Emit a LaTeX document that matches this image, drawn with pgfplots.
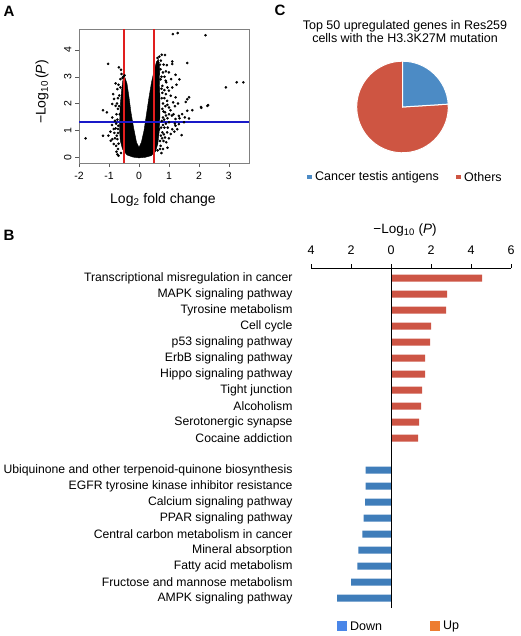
\documentclass[border=0pt]{standalone}
\usepackage{pgfplots}
\pgfplotsset{compat=1.18}
\usepackage{fontspec}
\setmainfont{Liberation Sans}

\definecolor{barred}{RGB}{205,85,69}
\definecolor{barblue}{RGB}{63,125,186}
\definecolor{pieblue}{RGB}{76,139,197}
\definecolor{piered}{RGB}{206,85,66}
\definecolor{downblue}{RGB}{74,134,232}
\definecolor{uporange}{RGB}{237,125,49}
\definecolor{vred}{RGB}{225,30,30}
\definecolor{vblue}{RGB}{25,25,200}

% pie values (top 50 genes)
\def\ctaval{12}
\def\otherval{38}

\begin{document}
\begin{tikzpicture}
\useasboundingbox (0,0) rectangle (520pt,-636pt);

% ---------------- panel letters
\node[font=\fontsize{15}{15}\selectfont\bfseries] at (9pt,-11pt) {A};
\node[font=\fontsize{15}{15}\selectfont\bfseries] at (9pt,-235pt) {B};
\node[font=\fontsize{15}{15}\selectfont\bfseries] at (280pt,-10pt) {C};

% ---------------- A: volcano plot
\begin{axis}[
    at={(79pt,-163pt)}, anchor=south west,
    scale only axis, width=170pt, height=134pt,
    xmin=-2, xmax=3.67, ymin=-0.22, ymax=4.78,
    axis line style={gray},
    xtick={-2,-1,0,1,2,3}, ytick={0,1,2,3,4},
    xtick pos=lower, ytick pos=left,
    tick align=outside, major tick length=4pt,
    tick style={gray!70!black},
    tick label style={font=\fontsize{10.5}{10.5}\selectfont},
    xticklabel style={yshift=-2pt},
    yticklabel style={rotate=90, anchor=south},
    /pgf/number format/assume math mode=true,
]
    % dense core of the V
    \addplot[fill=black, draw=black] coordinates {
        (0,-0.03) (-0.2,0.0) (-0.4,0.08) (-0.55,0.3) (-0.62,0.6) (-0.65,1.0)
        (-0.64,1.5) (-0.62,2.0) (-0.58,2.5) (-0.54,2.85) (-0.48,3.0) (-0.4,2.75)
        (-0.34,2.3) (-0.27,1.7) (-0.18,1.1) (-0.08,0.55) (0,0.36) (0.08,0.55)
        (0.17,1.0) (0.25,1.6) (0.33,2.2) (0.42,2.8) (0.5,3.2) (0.58,3.55)
        (0.65,3.65) (0.69,3.3) (0.68,2.8) (0.7,2.2) (0.7,1.6) (0.68,1.0)
        (0.63,0.5) (0.55,0.2) (0.4,0.05) (0.2,-0.01)
    } -- cycle;
    \addplot[only marks, mark=*, mark size=1.1pt, black] coordinates {
        (1.13,4.59) (1.29,4.63) (2.22,4.55) (-1.03,3.48) (-0.67,3.35) (-0.6,3.26)
        (0.76,3.82) (0.87,3.81) (1.11,3.57) (1.11,3.47) (1.61,3.51) (0.93,3.43)
        (0.8,3.16) (1.0,3.16) (1.22,3.07) (1.07,2.91) (0.89,2.85) (3.26,2.79)
        (3.48,2.79) (2.9,2.6) (1.0,2.48) (1.22,2.23) (1.61,2.16) (1.67,2.23)
        (1.56,2.06) (1.14,2.04) (1.0,1.85) (2.28,1.91) (2.31,1.94) (2.08,1.84)
        (1.78,1.75) (1.61,1.73) (1.44,1.6) (1.33,1.54) (1.53,1.48) (1.67,1.44)
        (1.22,1.42) (-1.2,1.75) (-1.07,1.67) (-0.89,1.48) (-0.8,1.36) (-0.78,1.07)
        (-0.84,1.05) (-1.2,0.8) (-1.02,0.8) (-1.78,0.7) (-0.94,0.61) (-0.84,0.49)
        (-0.72,0.67) (1.33,1.23) (1.22,1.17) (1.11,1.04) (0.94,0.92) (0.87,0.73)
        (0.91,0.55) (0.72,0.42) (1.06,0.86) (1.28,1.04) (-0.83,2.17) (-0.86,2.35)
        (-0.78,1.91) (-0.72,2.54) (-0.62,2.91) (0.64,3.53) (0.72,3.28) (0.91,2.79)
        (0.78,2.66) (1.11,2.6) (1.06,2.29) (0.94,2.1) (0.87,1.67) (0.8,1.48)
        (1.0,1.6) (0.67,1.04) (0.78,0.92) (-0.69,1.17) (-0.64,1.6) (-0.89,0.67)
        (-0.76,0.42) (-0.89,1.98) (1.42,0.82) (2.07,1.87) (1.2,1.25) (-0.7,0.3)
        (-0.75,0.2) (0.8,0.3) (0.75,0.15) (1.0,1.3) (0.95,1.45) (1.5,1.3)
        (1.35,1.45) (-0.68,2.7) (-0.66,2.3) (-0.7,1.8) (-0.72,1.4) (-0.7,0.9)
        (-0.68,0.5) (-0.6,0.15) (0.75,3.0) (0.78,2.4) (0.8,2.0) (0.82,1.7)
        (0.8,1.2) (0.77,0.7) (0.7,0.3) (-0.52,3.0) (-0.48,3.05) (0.62,3.7)
        (0.68,3.75) (0.73,3.6)
        (0.6,3.3) (0.65,3.1) (0.72,2.9) (0.85,3.0) (0.9,3.2) (0.82,3.45)
        (0.7,3.45) (0.95,2.6) (0.85,2.5) (0.75,2.55) (0.9,2.35) (0.85,2.2)
        (0.76,2.2) (0.95,1.95) (0.88,1.9) (0.78,1.8) (1.05,1.75) (0.9,1.55)
        (0.84,1.4) (0.76,1.35) (1.1,1.55) (0.9,1.25) (0.85,1.1) (0.74,1.1)
        (0.96,1.1) (1.18,0.95) (0.83,0.85) (0.73,0.8) (1.0,0.7) (0.82,0.6)
        (0.7,0.6) (0.95,0.35) (0.62,0.25) (1.15,1.6) (1.2,1.9) (1.3,2.0)
        (1.25,2.7) (1.35,2.9)
        (-0.7,2.2) (-0.73,2.0) (-0.75,1.6) (-0.76,1.25) (-0.74,0.8) (-0.66,1.9)
        (-0.62,2.6) (-0.58,3.1) (-0.55,2.95) (-0.8,0.7) (-0.72,0.1) (-0.68,0.05)
        (-0.82,0.9) (-0.9,1.2) (-0.95,0.95) (-0.7,1.05) (-0.78,2.75)
    };
    % thresholds
    \addplot[vred, line width=1.5pt] coordinates {(-0.5,-0.22) (-0.5,4.78)};
    \addplot[vred, line width=1.5pt] coordinates {(0.5,-0.22) (0.5,4.78)};
    \addplot[vblue, line width=1.8pt] coordinates {(-2,1.3) (3.67,1.3)};
\end{axis}
\node[font=\fontsize{14}{14}\selectfont, rotate=90] at (42pt,-92pt) {−Log\textsubscript{10}\,(\textit{P})};
\node[font=\fontsize{14}{14}\selectfont] at (163pt,-200pt) {Log\textsubscript{2} fold change};

% ---------------- C: pie chart
\node[font=\fontsize{12.5}{13}\selectfont, align=center] at (405pt,-32pt)
    {Top 50 upregulated genes in Res259\\cells with the H3.3K27M mutation};
\begin{axis}[
    at={(402.5pt,-107pt)}, anchor=center,
    x=45.8pt, y=45.8pt,
    xmin=-1, xmax=1, ymin=-1, ymax=1,
    hide axis, clip=false,
]
    \pgfmathsetmacro{\angA}{360*\ctaval/(\ctaval+\otherval)}
    \pgfmathsetmacro{\angEnd}{90-\angA}
    \fill[piered, draw=white, line width=1pt] (axis cs:0,0) -- (axis cs:{cos(\angEnd)},{sin(\angEnd)})
        arc[start angle=\angEnd, end angle=-270, radius=45.8pt] -- cycle;
    \fill[pieblue, draw=white, line width=1pt] (axis cs:0,0) -- (axis cs:0,1)
        arc[start angle=90, end angle=\angEnd, radius=45.8pt] -- cycle;
\end{axis}
\fill[pieblue] (307pt,-175pt) rectangle ++(4.5pt,-4.5pt);
\node[font=\fontsize{12.5}{12.5}\selectfont, anchor=west, inner sep=0pt] at (315pt,-177pt) {Cancer testis antigens};
\fill[piered] (456pt,-175pt) rectangle ++(4.5pt,-4.5pt);
\node[font=\fontsize{12.5}{12.5}\selectfont, anchor=west, inner sep=0pt] at (464pt,-177pt) {Others};

% ---------------- B: KEGG pathways
\begin{axis}[
    at={(311pt,-608pt)}, anchor=south west,
    scale only axis, width=200pt, height=339.8pt,
    xmin=-4, xmax=6, ymin=-0.62, ymax=20.62,
    axis x line=top, axis y line=left,
    x axis line style={-, black, line width=0.9pt},
    y axis line style={draw=none},
    xtick={-4,-2,0,2,4,6}, xticklabels={4,2,0,2,4,6},
    xtick style={black, line width=0.9pt},
    tick align=outside, major tick length=4pt,
    xticklabel style={font=\fontsize{12.5}{12.5}\selectfont, yshift=6pt},
    ytick={0,1,2,3,4,5,6,7,8,10,11,12,13,14,15,16,17,18,19,20},
    yticklabels={AMPK signaling pathway, Fructose and mannose metabolism,
        Fatty acid metabolism, Mineral absorption, Central carbon metabolism in cancer,
        PPAR signaling pathway, Calcium signaling pathway,
        EGFR tyrosine kinase inhibitor resistance,
        Ubiquinone and other terpenoid-quinone biosynthesis,
        Cocaine addiction, Serotonergic synapse, Alcoholism, Tight junction,
        Hippo signaling pathway, ErbB signaling pathway, p53 signaling pathway,
        Cell cycle, Tyrosine metabolism, MAPK signaling pathway,
        Transcriptional misregulation in cancer},
    ytick style={draw=none},
    yticklabel style={font=\fontsize{12.2}{12.2}\selectfont, xshift=-11pt},
    /pgf/number format/assume math mode=true,
    clip=false,
]
    \addplot[xbar, bar width=7pt, fill=barred, draw=none] coordinates {
        (4.55,20) (2.8,19) (2.75,18) (2.0,17) (1.95,16) (1.7,15)
        (1.7,14) (1.55,13) (1.5,12) (1.4,11) (1.35,10)
    };
    \addplot[xbar, bar width=7pt, fill=barblue, draw=none] coordinates {
        (-1.27,8) (-1.27,7) (-1.3,6) (-1.37,5) (-1.43,4)
        (-1.63,3) (-1.68,2) (-2.0,1) (-2.7,0)
    };
    \addplot[black, line width=1pt] coordinates {(0,-0.62) (0,20.62)};
\end{axis}
\node[font=\fontsize{13.5}{13.5}\selectfont] at (405pt,-230pt) {−Log\textsubscript{10} (\textit{P})};

\fill[downblue] (337pt,-621pt) rectangle ++(10pt,-10pt);
\node[font=\fontsize{12.5}{12.5}\selectfont, anchor=west, inner sep=0pt] at (350pt,-626pt) {Down};
\fill[uporange] (430pt,-621pt) rectangle ++(10pt,-10pt);
\node[font=\fontsize{12.5}{12.5}\selectfont, anchor=west, inner sep=0pt] at (443pt,-626pt) {Up};
\end{tikzpicture}
\end{document}
